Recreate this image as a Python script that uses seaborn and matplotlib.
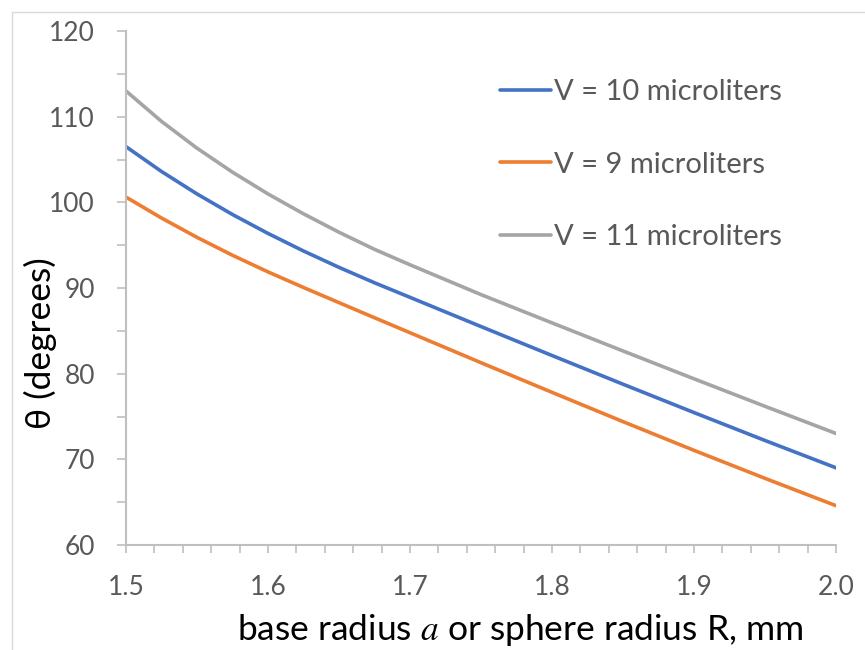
import matplotlib
matplotlib.use("Agg")
import matplotlib.pyplot as plt
from matplotlib.ticker import MultipleLocator, FormatStrFormatter
from matplotlib.patches import Rectangle
import seaborn as sns
import pandas as pd

# Data
radius = [1.500, 1.525, 1.550, 1.575, 1.600, 1.625, 1.650, 1.675, 1.700,
          1.750, 1.800, 1.850, 1.900, 1.950, 2.000]
theta_v10 = [106.50, 103.60, 100.98, 98.58, 96.37, 94.32, 92.41, 90.61, 88.91,
             85.50, 82.12, 78.77, 75.46, 72.20, 69.01]
theta_v9 = [100.61, 98.17, 95.91, 93.82, 91.88, 90.06, 88.29, 86.53, 84.78,
            81.28, 77.82, 74.40, 71.05, 67.78, 64.59]
theta_v11 = [113.00, 109.45, 106.32, 103.52, 100.98, 98.66, 96.51, 94.51, 92.71,
             89.23, 85.93, 82.65, 79.40, 76.19, 73.02]
series_labels = ["V = 10 microliters", "V = 9 microliters", "V = 11 microliters"]
series_colors = ["#4472C4", "#ED7D31", "#A5A5A5"]

sns.set_style("white")
plt.rcParams["font.family"] = ["Lato", "DejaVu Sans"]
plt.rcParams["mathtext.fontset"] = "stix"

W, H = 865, 650
fig = plt.figure(figsize=(W / 100, H / 100), dpi=100)
ax = fig.add_axes([126 / W, 1 - 545 / H, (836 - 126) / W, (545 - 31) / H])

# outer chart border (only left and top edges fall inside the picture)
fig.patches.append(Rectangle((12 / W, -0.05), 1.1, 1 - 12 / H + 0.05,
                             transform=fig.transFigure, fill=False,
                             edgecolor="#d9d9d9", linewidth=1.0))

frames = []
for vals, lab in zip([theta_v10, theta_v9, theta_v11], series_labels):
    frames.append(pd.DataFrame({"r": radius, "theta": vals, "series": lab}))
df = pd.concat(frames, ignore_index=True)

for lab, col in zip(series_labels, series_colors):
    sub = df[df["series"] == lab]
    sns.lineplot(data=sub, x="r", y="theta", color=col, linewidth=2.6,
                 label=lab, ax=ax, legend=False)

ax.set_xlim(1.5, 2.0)
ax.set_ylim(60, 120)
ax.xaxis.set_major_locator(MultipleLocator(0.1))
ax.xaxis.set_minor_locator(MultipleLocator(0.02))
ax.yaxis.set_major_locator(MultipleLocator(10))
ax.yaxis.set_minor_locator(MultipleLocator(5))
ax.xaxis.set_major_formatter(FormatStrFormatter("%.1f"))

for s in ["top", "right"]:
    ax.spines[s].set_visible(False)
for s in ["left", "bottom"]:
    ax.spines[s].set_color("#bfbfbf")
    ax.spines[s].set_linewidth(1.5)

ax.tick_params(axis="both", which="both", direction="out", color="#bfbfbf",
               width=1.2, labelcolor="#595959", bottom=True, left=True,
               top=False, right=False)
ax.tick_params(axis="y", which="both", length=6.5, pad=16, labelsize=19)
ax.tick_params(axis="x", which="both", length=5.5, pad=16, labelsize=19)
ax.tick_params(axis="both", which="minor", labelleft=False, labelbottom=False)

ax.set_xlabel("base radius $a$ or sphere radius R, mm", fontsize=25.5, color="black")
ax.set_ylabel("θ (degrees)", fontsize=25.5, color="black")
ax.xaxis.set_label_coords(520 / W, 1 - 640 / H, transform=fig.transFigure)
ax.yaxis.set_label_coords(40 / W, 1 - 343 / H, transform=fig.transFigure)
ax.xaxis.label.set_va("baseline")
ax.yaxis.label.set_va("center")

handles, labels = ax.get_legend_handles_labels()
leg = ax.legend(handles, labels, loc="upper left",
                bbox_to_anchor=(500 / W, 1 - 79 / H), bbox_transform=fig.transFigure,
                frameon=False, fontsize=21, handlelength=1.75, handletextpad=0.1,
                labelspacing=1.6, borderpad=0, borderaxespad=0)
for t in leg.get_texts():
    t.set_color("#595959")
for l in leg.get_lines():
    l.set_linewidth(2.6)

fig.savefig("out.png", dpi=100)
